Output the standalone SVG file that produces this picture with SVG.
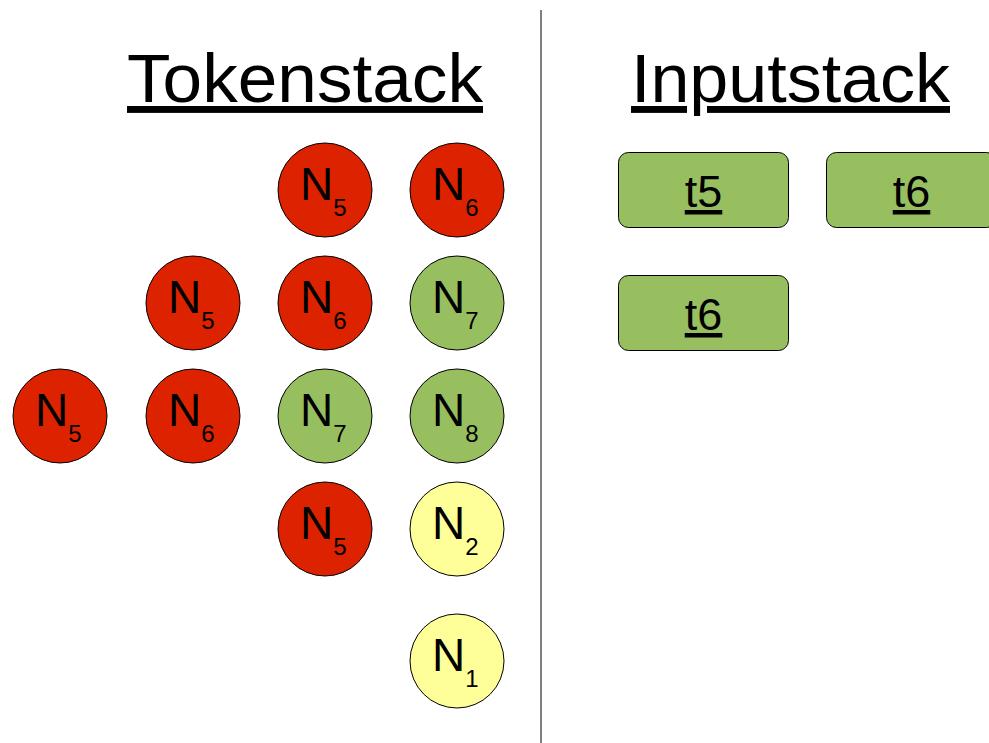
<svg xmlns="http://www.w3.org/2000/svg" width="989" height="743" viewBox="0 0 989 743">
<style>
.n{stroke:#000;stroke-width:1}
.red{fill:#dd2200}
.grn{fill:#97bf60}
.yel{fill:#ffff99}
.lbl{font-family:"Liberation Sans",Arial,sans-serif;font-size:46px;fill:#000}
.sub{font-size:24px}
.title{font-family:"Liberation Sans",Arial,sans-serif;font-size:69px;fill:#000;text-decoration:underline}
.tok{font-family:"Liberation Sans",Arial,sans-serif;font-size:45px;fill:#000;text-decoration:underline;text-anchor:middle}
.box{fill:#97bf60;stroke:#000;stroke-width:1}
</style>
<rect width="989" height="743" fill="#fff"/>
<g id="divider"><line x1="541" y1="10" x2="541" y2="743" stroke="#000" stroke-width="1"/></g>
<g id="titles">
<text class="title" x="127" y="102" textLength="356" lengthAdjust="spacingAndGlyphs">Tokenstack</text>
<text class="title" x="631" y="102" textLength="319" lengthAdjust="spacingAndGlyphs">Inputstack</text>
</g>
<g id="connectors"></g>
<g id="n-c2r1"><circle class="n red" cx="325" cy="190" r="47"/><text class="lbl" x="300" y="200">N<tspan class="sub" dy="16">5</tspan></text></g>
<g id="n-c3r1"><circle class="n red" cx="457" cy="190" r="47"/><text class="lbl" x="432" y="200">N<tspan class="sub" dy="16">6</tspan></text></g>
<g id="n-c1r2"><circle class="n red" cx="193" cy="303" r="47"/><text class="lbl" x="168" y="313">N<tspan class="sub" dy="16">5</tspan></text></g>
<g id="n-c2r2"><circle class="n red" cx="325" cy="303" r="47"/><text class="lbl" x="300" y="313">N<tspan class="sub" dy="16">6</tspan></text></g>
<g id="n-c3r2"><circle class="n grn" cx="457" cy="303" r="47"/><text class="lbl" x="432" y="313">N<tspan class="sub" dy="16">7</tspan></text></g>
<g id="n-c0r3"><circle class="n red" cx="60" cy="416" r="47"/><text class="lbl" x="35" y="426">N<tspan class="sub" dy="16">5</tspan></text></g>
<g id="n-c1r3"><circle class="n red" cx="193" cy="416" r="47"/><text class="lbl" x="168" y="426">N<tspan class="sub" dy="16">6</tspan></text></g>
<g id="n-c2r3"><circle class="n grn" cx="325" cy="416" r="47"/><text class="lbl" x="300" y="426">N<tspan class="sub" dy="16">7</tspan></text></g>
<g id="n-c3r3"><circle class="n grn" cx="457" cy="416" r="47"/><text class="lbl" x="432" y="426">N<tspan class="sub" dy="16">8</tspan></text></g>
<g id="n-c2r4"><circle class="n red" cx="325" cy="529" r="47"/><text class="lbl" x="300" y="539">N<tspan class="sub" dy="16">5</tspan></text></g>
<g id="n-c3r4"><circle class="n yel" cx="457" cy="529" r="47"/><text class="lbl" x="432" y="539">N<tspan class="sub" dy="16">2</tspan></text></g>
<g id="n-c3r5"><circle class="n yel" cx="457" cy="661" r="47"/><text class="lbl" x="432" y="671">N<tspan class="sub" dy="16">1</tspan></text></g>
<g id="t5a"><rect class="box" x="618.5" y="152.5" width="170" height="75" rx="10"/><text class="tok" x="703.5" y="207">t5</text></g>
<g id="t6a"><rect class="box" x="826.5" y="152.5" width="170" height="75" rx="10"/><text class="tok" x="911.5" y="207">t6</text></g>
<g id="t6b"><rect class="box" x="618.5" y="275.5" width="170" height="75" rx="10"/><text class="tok" x="703.5" y="330">t6</text></g>
</svg>
